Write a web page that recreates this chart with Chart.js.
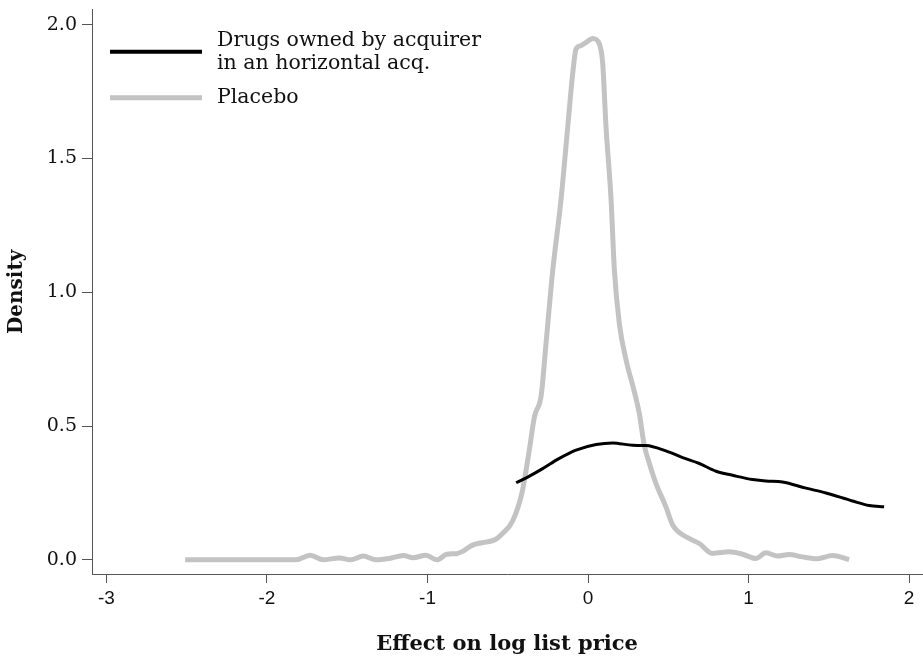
<!DOCTYPE html>
<html>
<head>
<meta charset="utf-8">
<script src="https://cdn.jsdelivr.net/npm/chart.js@4.4.1/dist/chart.umd.min.js"></script>
<style>
  html, body { margin: 0; padding: 0; background: #fff; }
  #wrap { width: 923px; height: 663px; }
</style>
</head>
<body>
<div id="wrap"><canvas id="density-chart" width="923" height="663"></canvas></div>
<script>
// kernel density estimates, effect on log list price
const acquirerX = [-0.448, -0.365, -0.283, -0.179, -0.075, 0.05, 0.153, 0.278, 0.361, 0.485,
  0.589, 0.693, 0.797, 0.9, 1.024, 1.108, 1.211, 1.357, 1.481, 1.647, 1.75, 1.844];
const acquirerY = [0.288, 0.313, 0.341, 0.379, 0.41, 0.431, 0.437, 0.428, 0.427, 0.407,
  0.382, 0.36, 0.331, 0.316, 0.3, 0.295, 0.291, 0.268, 0.25, 0.22, 0.203, 0.198];

const placeboX = [-2.51, -1.82, -1.73, -1.65, -1.55, -1.48, -1.40, -1.32, -1.24, -1.15,
  -1.09, -1.01, -0.94, -0.88, -0.82, -0.78, -0.72, -0.66, -0.58, -0.53,
  -0.47, -0.41, -0.365, -0.334, -0.292, -0.261, -0.22, -0.168, -0.127, -0.096,
  -0.075, -0.044, -0.012, 0.029, 0.07, 0.091, 0.112, 0.143, 0.164, 0.195,
  0.236, 0.288, 0.319, 0.35, 0.381, 0.423, 0.485, 0.527, 0.61, 0.693,
  0.775, 0.879, 0.962, 1.045, 1.108, 1.18, 1.253, 1.335, 1.429, 1.522, 1.626];
const placeboY = [0.0, 0.0, 0.017, 0.0, 0.007, 0.0, 0.014, 0.0, 0.005, 0.016,
  0.008, 0.017, 0.0, 0.021, 0.023, 0.032, 0.055, 0.064, 0.075, 0.1,
  0.145, 0.255, 0.415, 0.535, 0.615, 0.815, 1.082, 1.349, 1.616, 1.816,
  1.909, 1.922, 1.934, 1.949, 1.929, 1.856, 1.616, 1.349, 1.082, 0.882,
  0.749, 0.629, 0.548, 0.428, 0.362, 0.285, 0.198, 0.13, 0.086, 0.061,
  0.024, 0.03, 0.021, 0.005, 0.026, 0.014, 0.02, 0.011, 0.004, 0.016, 0.001];

const seriesNames = ["Drugs owned by acquirer\nin an horizontal acq.", "Placebo"];
const xTicks = [-3, -2, -1, 0, 1, 2];
const yTicks = [0, 0.5, 1, 1.5, 2];

const toPoints = (xs, ys) => xs.map((x, i) => ({ x: x, y: ys[i] }));

const SERIF = "'DejaVu Serif', 'Liberation Serif', serif";
const AXIS_GREY = "#555555";

// legend drawn inside the plot, top-left, with two-line label support
const insideLegend = {
  id: "insideLegend",
  afterDraw(chart) {
    const ctx = chart.ctx;
    const x0 = chart.chartArea.left + 18;
    const lineLen = 92;
    const textX = x0 + lineLen + 15;
    let y = chart.chartArea.top + 42;
    ctx.save();
    ctx.font = "20.5px " + SERIF;
    ctx.fillStyle = "#111";
    ctx.textBaseline = "middle";
    chart.data.datasets.forEach((ds) => {
      const lines = ds.label.split("\n");
      ctx.strokeStyle = ds.borderColor;
      ctx.lineWidth = ds.legendWidth;
      ctx.beginPath();
      ctx.moveTo(x0, y);
      ctx.lineTo(x0 + lineLen, y);
      ctx.stroke();
      lines.forEach((t, i) => ctx.fillText(t, textX, y - (lines.length - 1) * 11.5 + i * 23));
      y += 46;
    });
    ctx.restore();
  }
};

new Chart("density-chart", {
  type: "line",
  data: {
    datasets: [{
      label: seriesNames[0],
      data: toPoints(acquirerX, acquirerY),
      borderColor: "#000000",
      borderWidth: 3,
      legendWidth: 4,
      pointRadius: 0,
      cubicInterpolationMode: "monotone",
      fill: false
    }, {
      label: seriesNames[1],
      data: toPoints(placeboX, placeboY),
      borderColor: "#c3c3c3",
      borderWidth: 5,
      legendWidth: 5,
      pointRadius: 0,
      cubicInterpolationMode: "monotone",
      fill: false
    }]
  },
  options: {
    responsive: false,
    animation: false,
    layout: { padding: { top: 9, right: 1, bottom: 0, left: 0 } },
    plugins: {
      legend: { display: false },
      tooltip: { enabled: false }
    },
    scales: {
      x: {
        type: "linear",
        min: -3.09,
        max: 2.08,
        afterBuildTicks: (scale) => { scale.ticks = xTicks.map(v => ({ value: v })); },
        afterFit: (scale) => { scale.height = 89; },
        grid: { drawOnChartArea: false, drawTicks: true, tickLength: 9, color: AXIS_GREY },
        border: { display: true, color: AXIS_GREY, width: 1 },
        ticks: {
          padding: 4,
          color: "#111",
          maxRotation: 0,
          font: { family: "'Liberation Sans', Arial, sans-serif", size: 19 },
          callback: (v) => String(v)
        },
        title: {
          display: true,
          text: "Effect on log list price",
          color: "#111",
          font: { family: SERIF, size: 21, weight: "bold" },
          padding: { top: 0, bottom: 6 }
        }
      },
      y: {
        type: "linear",
        min: -0.053,
        max: 2.056,
        afterBuildTicks: (scale) => { scale.ticks = yTicks.map(v => ({ value: v })); },
        afterFit: (scale) => { scale.width = 92; },
        grid: { drawOnChartArea: false, drawTicks: true, tickLength: 10, color: AXIS_GREY },
        border: { display: true, color: AXIS_GREY, width: 1 },
        ticks: {
          padding: 5,
          color: "#111",
          font: { family: SERIF, size: 19, lineHeight: 0.5 },
          callback: (v) => v.toFixed(1)
        },
        title: {
          display: true,
          text: "Density",
          color: "#111",
          font: { family: SERIF, size: 20, weight: "bold" },
          padding: { top: 5, bottom: 0 }
        }
      }
    }
  },
  plugins: [insideLegend]
});
</script>
</body>
</html>
